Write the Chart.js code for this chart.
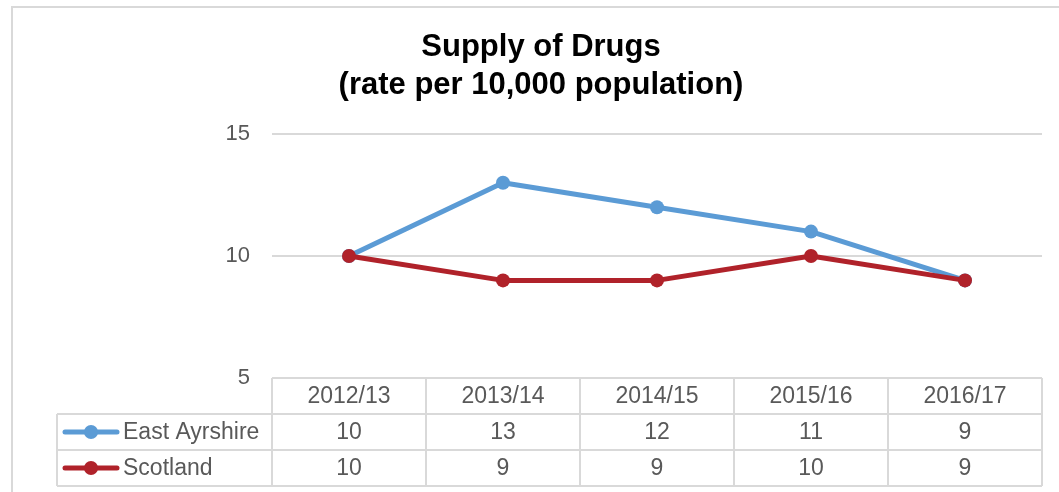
<!DOCTYPE html>
<html>
<head>
<meta charset="utf-8">
<script src="https://cdn.jsdelivr.net/npm/chart.js@4.4.0/dist/chart.umd.min.js"></script>
<style>
  html, body { margin: 0; padding: 0; background: #fff; }
  canvas { display: block; }
</style>
</head>
<body>
<canvas id="myChart" width="1059" height="492"></canvas>
<script>
let years = ['2012/13', '2013/14', '2014/15', '2015/16', '2016/17'];
let eastAyrshire = [10, 13, 12, 11, 9];
let scotland = [10, 9, 9, 10, 9];
let yTicks = [5, 10, 15];
let titleLines = ['Supply of Drugs', '(rate per 10,000 population)'];

const blue = '#5B9BD5';
const red = '#B0222A';
const grey = '#D9D9D9';
const txt = '#595959';
const font = '"Liberation Sans", Arial, sans-serif';

// draws the frame, the title and the data table under the axis
const tablePlugin = {
  id: 'dataTable',
  afterDraw: (chart) => {
    const c = chart.ctx;
    const x = chart.scales.x;
    const y = chart.scales.y;
    const area = chart.chartArea;
    c.save();

    // outer frame
    c.strokeStyle = grey;
    c.lineWidth = 2;
    c.beginPath();
    c.moveTo(12, 492);
    c.lineTo(12, 7);
    c.lineTo(1059, 7);
    c.stroke();

    // title
    c.fillStyle = '#000';
    c.font = 'bold 31px ' + font;
    c.textAlign = 'center';
    c.textBaseline = 'middle';
    c.fillText(titleLines[0], 541, 47);
    c.fillText(titleLines[1], 541, 85);

    // table grid
    const top = y.getPixelForValue(yTicks[0]);
    const rowH = 36;
    const step = x.getPixelForValue(1) - x.getPixelForValue(0);
    const legLeft = 57;
    c.strokeStyle = grey;
    c.lineWidth = 2;
    c.beginPath();
    c.moveTo(area.left, top);
    c.lineTo(area.right, top);
    for (let r = 1; r <= 3; r++) {
      c.moveTo(legLeft, top + r * rowH);
      c.lineTo(area.right, top + r * rowH);
    }
    c.moveTo(legLeft, top + rowH);
    c.lineTo(legLeft, top + 3 * rowH);
    for (let i = 0; i <= years.length; i++) {
      const bx = x.getPixelForValue(0) - step / 2 + i * step;
      c.moveTo(bx, top);
      c.lineTo(bx, top + 3 * rowH);
    }
    c.stroke();

    // cell texts
    c.fillStyle = txt;
    c.font = '23px ' + font;
    c.textAlign = 'center';
    const rows = [eastAyrshire, scotland];
    years.forEach((yr, i) => {
      const cx = x.getPixelForValue(i);
      c.fillText(yr, cx, top + rowH / 2 + 1);
      rows.forEach((vals, r) => {
        c.fillText(String(vals[i]), cx, top + rowH * (r + 1.5) + 1);
      });
    });

    // legend keys
    chart.data.datasets.forEach((ds, r) => {
      const cy = top + rowH * (r + 1.5);
      c.strokeStyle = ds.borderColor;
      c.lineWidth = 5;
      c.lineCap = 'round';
      c.beginPath();
      c.moveTo(65, cy);
      c.lineTo(117, cy);
      c.stroke();
      c.fillStyle = ds.borderColor;
      c.beginPath();
      c.arc(91, cy, 7, 0, Math.PI * 2);
      c.fill();
      c.fillStyle = txt;
      c.textAlign = 'left';
      c.fillText(ds.label, 123, cy + 1);
    });
    c.restore();
  }
};

const ctx = document.getElementById('myChart').getContext('2d');
new Chart(ctx, {
  type: 'line',
  data: {
    labels: years,
    datasets: [{
      label: 'East Ayrshire',
      data: eastAyrshire,
      borderColor: blue,
      backgroundColor: blue,
      pointBackgroundColor: blue,
      borderWidth: 5,
      pointRadius: 7,
      pointBorderWidth: 0,
      borderJoinStyle: 'round',
      order: 1
    }, {
      label: 'Scotland',
      data: scotland,
      borderColor: red,
      backgroundColor: red,
      pointBackgroundColor: red,
      borderWidth: 5,
      pointRadius: 7,
      pointBorderWidth: 0,
      borderJoinStyle: 'round',
      order: 0
    }]
  },
  options: {
    responsive: false,
    animation: false,
    layout: { padding: { left: 0, top: 134, right: 17, bottom: 114 } },
    plugins: {
      legend: { display: false },
      title: { display: false },
      tooltip: { enabled: false }
    },
    scales: {
      x: {
        type: 'category',
        display: false,
        offset: true
      },
      y: {
        min: 5,
        max: 15,
        afterFit: (scale) => { scale.width = 272; },
        afterBuildTicks: (scale) => { scale.ticks = yTicks.map(v => ({ value: v })); },
        ticks: {
          padding: 22,
          color: txt,
          font: { family: font, size: 22 }
        },
        grid: { color: grey, lineWidth: 2, drawTicks: false },
        border: { display: false }
      }
    }
  },
  plugins: [tablePlugin]
});
</script>
</body>
</html>
